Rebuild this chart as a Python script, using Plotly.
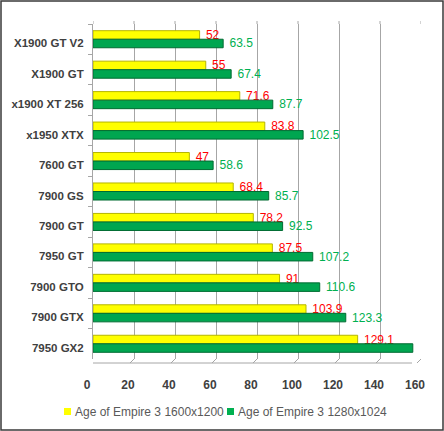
import plotly.graph_objects as go

categories = ["X1900 GT V2", "X1900 GT", "x1900 XT 256", "x1950 XTX", "7600 GT",
              "7900 GS", "7900 GT", "7950 GT", "7900 GTO", "7900 GTX", "7950 GX2"]
res_1600 = [52, 55, 71.6, 83.8, 47, 68.4, 78.2, 87.5, 91, 103.9, 129.1]
res_1280 = [63.5, 67.4, 87.7, 102.5, 58.6, 85.7, 92.5, 107.2, 110.6, 123.3, 156]
labels_1600 = ["52", "55", "71.6", "83.8", "47", "68.4", "78.2", "87.5", "91", "103.9", "129.1"]
labels_1280 = ["63.5", "67.4", "87.7", "102.5", "58.6", "85.7", "92.5", "107.2", "110.6", "123.3", ""]
x_ticks = [0, 20, 40, 60, 80, 100, 120, 140, 160]
series_names = ["Age of Empire 3 1600x1200", "Age of Empire 3 1280x1024"]

W, H = 444, 431
ML, MR, MT, MB = 93, 23, 24, 72
PW, PH = W - ML - MR, H - MT - MB

YELLOW = "#FFFF00"
GREEN = "#00A650"
FONT = "Liberation Sans, Arial, sans-serif"


def px_x(p):
    return (p - ML) / PW


def px_y(p):
    return (H - MB - p) / PH


fig = go.Figure()
fig.add_trace(go.Bar(
    y=categories, x=res_1600, orientation="h", name=series_names[0],
    marker=dict(color=YELLOW, line=dict(color="#B5B500", width=1)),
    text=[" " + t for t in labels_1600], textposition="outside",
    textfont=dict(family=FONT, size=12, color="#FF0000"),
    constraintext="none", cliponaxis=False, showlegend=False,
))
fig.add_trace(go.Bar(
    y=categories, x=res_1280, orientation="h", name=series_names[1],
    marker=dict(color=GREEN, line=dict(color="#006B32", width=1)),
    text=[(" " + t) if t else "" for t in labels_1280], textposition="outside",
    textfont=dict(family=FONT, size=12, color="#00B050"),
    constraintext="none", cliponaxis=False, showlegend=False,
))

shapes = []
GRID = "#A6A6A6"
# floor diagonals (3D depth) at each tick
for v in x_ticks:
    shapes.append(dict(type="line", xref="x", xsizemode="pixel", xanchor=v, x0=0, x1=-4,
                       yref="paper", ysizemode="pixel", yanchor=0, y0=0, y1=-4,
                       line=dict(color=GRID, width=1)))
    # extend the wall gridlines up to the top edge of the back wall
    shapes.append(dict(type="line", xref="x", xsizemode="pixel", xanchor=v, x0=0, x1=0,
                       yref="paper", ysizemode="pixel", yanchor=1, y0=0, y1=3,
                       line=dict(color=GRID, width=1)))
# front floor edge
shapes.append(dict(type="line", xref="x", xsizemode="pixel", xanchor=0, x0=-4, x1=PW - 9,
                   yref="paper", ysizemode="pixel", yanchor=0, y0=-4, y1=-4,
                   line=dict(color=GRID, width=1)))
# left wall front edge
shapes.append(dict(type="line", xref="x", xsizemode="pixel", xanchor=0, x0=-4, x1=-4,
                   yref="paper", ysizemode="pixel", yanchor=0, y0=-4, y1=PH - 2,
                   line=dict(color=GRID, width=1)))
shapes.append(dict(type="line", xref="x", xsizemode="pixel", xanchor=0, x0=-4, x1=0,
                   yref="paper", ysizemode="pixel", yanchor=0, y0=PH - 2, y1=PH + 2,
                   line=dict(color=GRID, width=1)))
# outer chart border
shapes.append(dict(type="rect", xref="paper", yref="paper",
                   x0=px_x(1), x1=px_x(W - 1), y0=px_y(H - 1), y1=px_y(1),
                   line=dict(color="#3A3A3A", width=1.5), layer="above"))

# legend (swatch + label) below the axis
legend_cols = [YELLOW, "#00B050"]
legend_swatch_x = [64, 227]
annotations = []
for nm, col, sx in zip(series_names, legend_cols, legend_swatch_x):
    shapes.append(dict(type="rect", xref="paper", yref="paper",
                       x0=px_x(sx), x1=px_x(sx + 7), y0=px_y(415), y1=px_y(408),
                       fillcolor=col, line=dict(width=0)))
    annotations.append(dict(text=nm, xref="paper", yref="paper", x=px_x(sx + 9),
                            y=px_y(411.5), xanchor="left", yanchor="middle",
                            showarrow=False,
                            font=dict(family=FONT, size=12, color="#595959")))

fig.update_layout(
    width=W, height=H,
    margin=dict(l=ML, r=MR, t=MT, b=MB, pad=0, autoexpand=False),
    paper_bgcolor="white", plot_bgcolor="white",
    barmode="group", bargap=0.44, bargroupgap=0,
    font=dict(family=FONT, color="#404040"),
    showlegend=False,
    xaxis=dict(range=[0, 160], tickvals=x_ticks, showgrid=True, gridcolor=GRID,
               gridwidth=1, zeroline=False, showline=False, ticks="", automargin=False,
               tickfont=dict(family=FONT, size=12, color="#404040", weight="bold"),
               ticklabelstandoff=17, ticklabelshift=-6, fixedrange=True),
    yaxis=dict(autorange="reversed", showline=True, linecolor=GRID, linewidth=1,
               ticks="outside", tickson="boundaries", ticklen=4, tickcolor=GRID,
               showgrid=False, automargin=False,
               tickfont=dict(family=FONT, size=11.5, color="#404040", weight="bold"),
               ticklabelstandoff=6, ticklabelshift=-4),
    shapes=shapes,
    annotations=annotations,
)

fig.write_html("out.html", config={"displayModeBar": False},
               post_script="document.body.style.margin='0';document.body.style.overflow='hidden';")
